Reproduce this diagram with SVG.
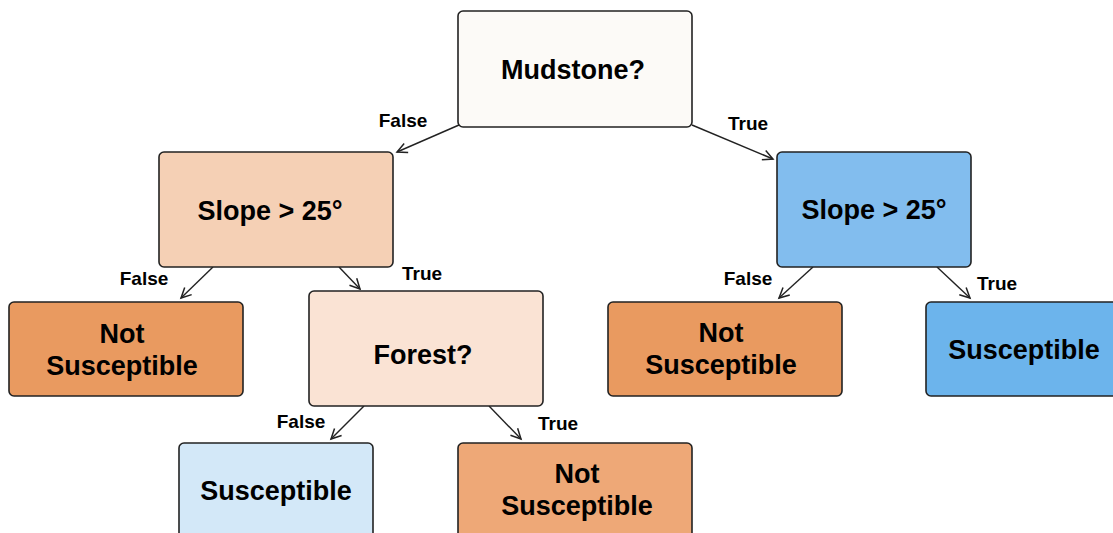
<svg xmlns="http://www.w3.org/2000/svg" width="1113" height="533" viewBox="0 0 1113 533">
  <style>
    .box { stroke: #222; stroke-width: 1.6; }
    .node-text { font-family: "Liberation Sans", Arial, sans-serif; font-weight: bold; font-size: 27px; fill: #000; text-anchor: middle; }
    .edge { stroke: #222; stroke-width: 1.4; fill: none; marker-end: url(#arrow); }
    .edge-label { font-family: "Liberation Sans", Arial, sans-serif; font-weight: bold; font-size: 19px; fill: #000; text-anchor: middle; }
  </style>
  <defs>
    <marker id="arrow" markerUnits="userSpaceOnUse" markerWidth="14" markerHeight="14" refX="11" refY="6" orient="auto">
      <path d="M1,1 L11,6 L1,11" fill="none" stroke="#222" stroke-width="1.5"/>
    </marker>
  </defs>
  <rect width="1113" height="533" fill="#ffffff"/>

  <!-- connectors -->
  <g id="edges">
    <line class="edge" x1="459" y1="125" x2="397" y2="152"/>
    <line class="edge" x1="692" y1="125" x2="773" y2="159"/>
    <line class="edge" x1="213" y1="267" x2="181" y2="298"/>
    <line class="edge" x1="339" y1="267" x2="360" y2="289"/>
    <line class="edge" x1="813" y1="267" x2="779" y2="298"/>
    <line class="edge" x1="937" y1="267" x2="970" y2="298"/>
    <line class="edge" x1="364" y1="406" x2="331" y2="439"/>
    <line class="edge" x1="489" y1="406" x2="521" y2="439"/>
    <text class="edge-label" x="403" y="127">False</text>
    <text class="edge-label" x="748" y="130">True</text>
    <text class="edge-label" x="144" y="285">False</text>
    <text class="edge-label" x="422" y="280">True</text>
    <text class="edge-label" x="748" y="285">False</text>
    <text class="edge-label" x="997" y="290">True</text>
    <text class="edge-label" x="301" y="428">False</text>
    <text class="edge-label" x="558" y="430">True</text>
  </g>

  <!-- nodes -->
  <g id="mudstone">
    <rect class="box" x="458" y="11" width="234" height="116" rx="5" fill="#fcfaf7"/>
    <text class="node-text" x="573" y="79">Mudstone?</text>
  </g>
  <g id="slope-false">
    <rect class="box" x="159" y="152" width="234" height="115" rx="5" fill="#f5d0b5"/>
    <text class="node-text" x="270" y="220">Slope &gt; 25°</text>
  </g>
  <g id="slope-true">
    <rect class="box" x="777" y="152" width="194" height="115" rx="5" fill="#82bdee"/>
    <text class="node-text" x="874" y="219">Slope &gt; 25°</text>
  </g>
  <g id="not-susceptible-1">
    <rect class="box" x="9" y="302" width="234" height="94" rx="5" fill="#e99a60"/>
    <text class="node-text" x="122" y="343">Not</text>
    <text class="node-text" x="122" y="375">Susceptible</text>
  </g>
  <g id="forest">
    <rect class="box" x="309" y="291" width="234" height="115" rx="5" fill="#fae3d4"/>
    <text class="node-text" x="423" y="364">Forest?</text>
  </g>
  <g id="not-susceptible-2">
    <rect class="box" x="608" y="302" width="234" height="94" rx="5" fill="#e99a60"/>
    <text class="node-text" x="721" y="342">Not</text>
    <text class="node-text" x="721" y="374">Susceptible</text>
  </g>
  <g id="susceptible-1">
    <rect class="box" x="926" y="302" width="196" height="94" rx="5" fill="#6cb4ec"/>
    <text class="node-text" x="1024" y="359">Susceptible</text>
  </g>
  <g id="susceptible-2">
    <rect class="box" x="179" y="443" width="194" height="100" rx="5" fill="#d3e8f8"/>
    <text class="node-text" x="276" y="500">Susceptible</text>
  </g>
  <g id="not-susceptible-3">
    <rect class="box" x="458" y="443" width="234" height="100" rx="5" fill="#eea877"/>
    <text class="node-text" x="577" y="483">Not</text>
    <text class="node-text" x="577" y="515">Susceptible</text>
  </g>
</svg>
